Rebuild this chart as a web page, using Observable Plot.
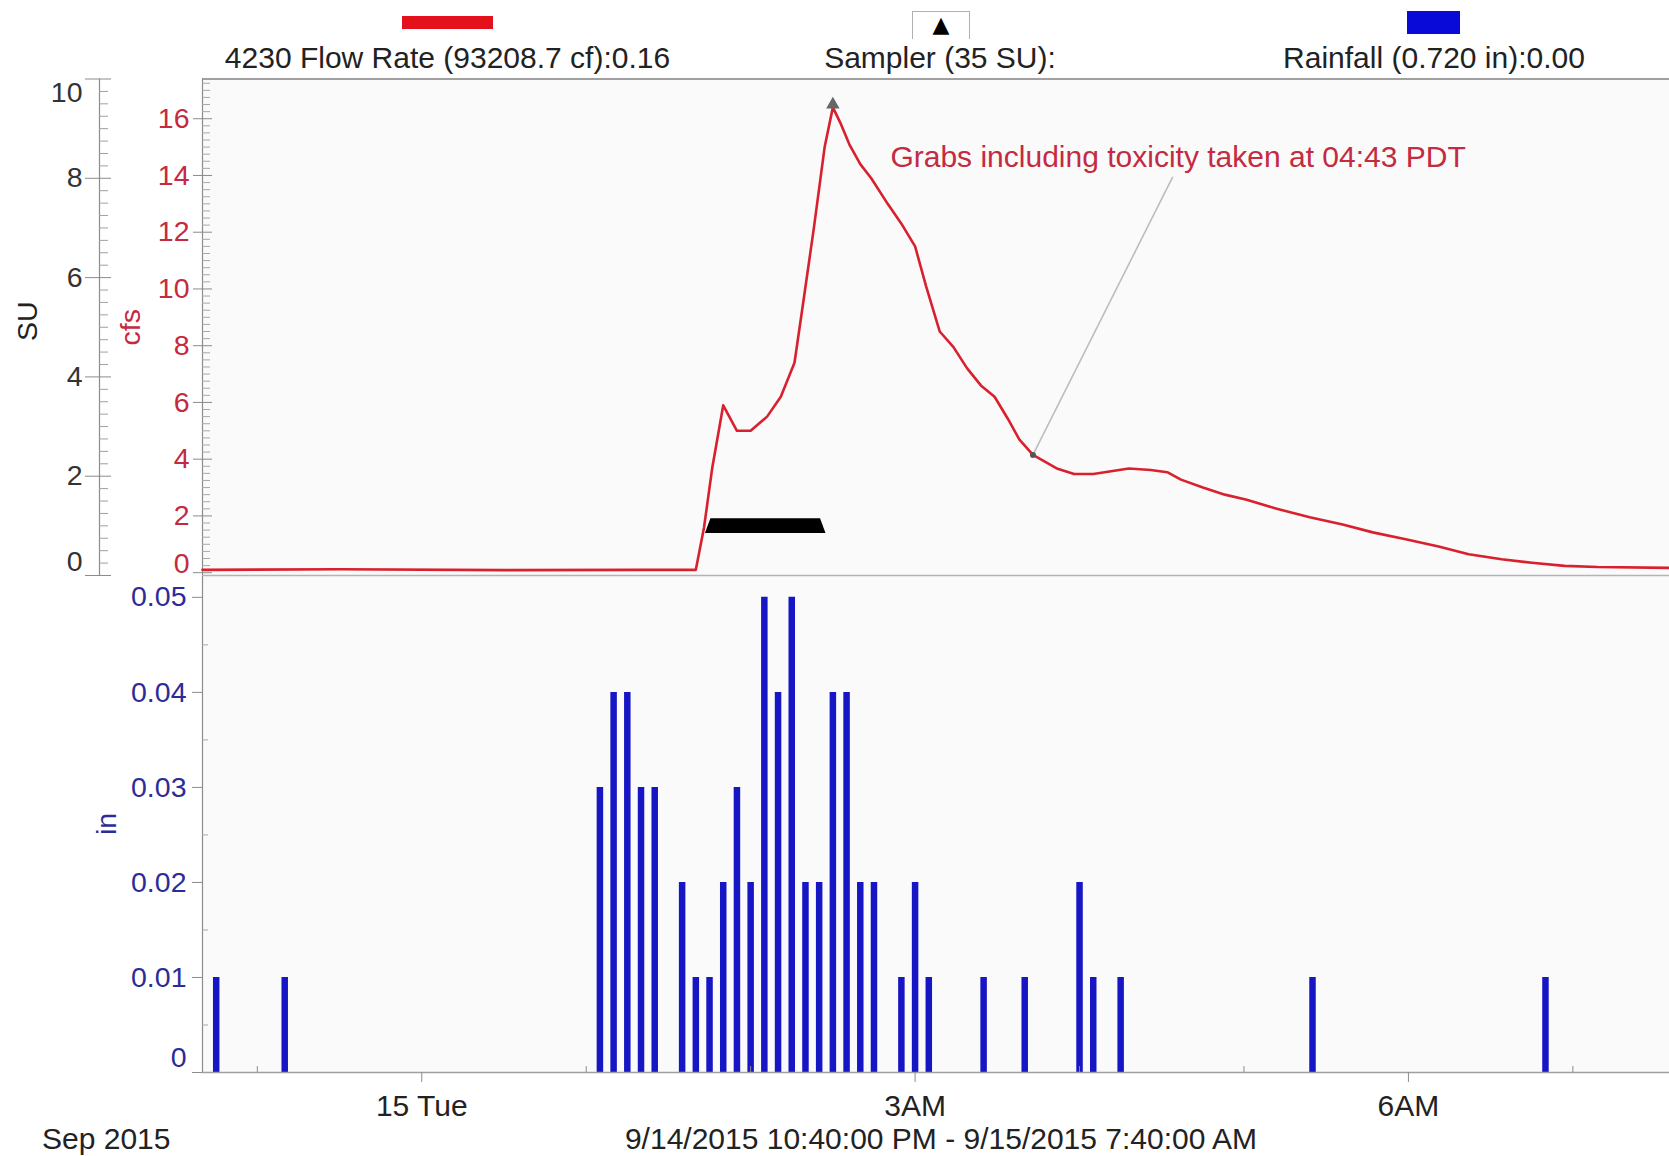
<!DOCTYPE html>
<html><head><meta charset="utf-8">
<script src="https://cdn.jsdelivr.net/npm/d3@7"></script>
<script src="https://cdn.jsdelivr.net/npm/@observablehq/plot@0.6"></script>
<style>
html,body{margin:0;padding:0;overflow:hidden;background:#fff;}
#wrap{position:relative;width:1669px;height:1156px;font-family:"Liberation Sans",Arial,sans-serif;color:#222;overflow:hidden;}
.abs{position:absolute;white-space:nowrap;}
.lbl{font-size:30px;line-height:34px;transform:translateX(-50%);}
#wrap svg{overflow:visible;background:transparent;}
</style></head><body><div id="wrap"></div>
<script>
// ---------- data ----------
const flowTimes = ["2015-09-14T22:40","2015-09-14T23:30","2015-09-15T00:30","2015-09-15T01:20","2015-09-15T01:40","2015-09-15T01:43","2015-09-15T01:46","2015-09-15T01:50","2015-09-15T01:55","2015-09-15T02:00","2015-09-15T02:06","2015-09-15T02:11","2015-09-15T02:16","2015-09-15T02:19","2015-09-15T02:23","2015-09-15T02:27","2015-09-15T02:30","2015-09-15T02:33","2015-09-15T02:36","2015-09-15T02:40","2015-09-15T02:44","2015-09-15T02:50","2015-09-15T02:55","2015-09-15T03:00","2015-09-15T03:04","2015-09-15T03:09","2015-09-15T03:14","2015-09-15T03:19","2015-09-15T03:24","2015-09-15T03:29","2015-09-15T03:34","2015-09-15T03:38","2015-09-15T03:43","2015-09-15T03:52","2015-09-15T03:58","2015-09-15T04:05","2015-09-15T04:18","2015-09-15T04:26","2015-09-15T04:32","2015-09-15T04:37","2015-09-15T04:45","2015-09-15T04:53","2015-09-15T05:01","2015-09-15T05:12","2015-09-15T05:24","2015-09-15T05:36","2015-09-15T05:47","2015-09-15T05:59","2015-09-15T06:11","2015-09-15T06:22","2015-09-15T06:34","2015-09-15T06:45","2015-09-15T06:57","2015-09-15T07:09","2015-09-15T07:35","2015-09-15T07:40"];
const flowCfs = [0.1,0.12,0.09,0.1,0.1,1.6,3.7,5.9,5.0,5.0,5.5,6.2,7.4,9.4,12.1,15.0,16.4,15.8,15.1,14.4,13.9,13.0,12.3,11.5,10.1,8.5,7.95,7.2,6.6,6.2,5.4,4.7,4.15,3.66,3.48,3.48,3.67,3.62,3.54,3.28,3.0,2.75,2.57,2.25,1.95,1.7,1.42,1.18,0.92,0.65,0.47,0.35,0.24,0.2,0.17,0.16];

const rainTimes = ["2015-09-14T22:45","2015-09-14T23:10","2015-09-15T01:05","2015-09-15T01:10","2015-09-15T01:15","2015-09-15T01:20","2015-09-15T01:25","2015-09-15T01:35","2015-09-15T01:40","2015-09-15T01:45","2015-09-15T01:50","2015-09-15T01:55","2015-09-15T02:00","2015-09-15T02:05","2015-09-15T02:10","2015-09-15T02:15","2015-09-15T02:20","2015-09-15T02:25","2015-09-15T02:30","2015-09-15T02:35","2015-09-15T02:40","2015-09-15T02:45","2015-09-15T02:55","2015-09-15T03:00","2015-09-15T03:05","2015-09-15T03:25","2015-09-15T03:40","2015-09-15T04:00","2015-09-15T04:05","2015-09-15T04:15","2015-09-15T05:25","2015-09-15T06:50"];
const rainInches = [0.01,0.01,0.03,0.04,0.04,0.03,0.03,0.02,0.01,0.01,0.02,0.03,0.02,0.05,0.04,0.05,0.02,0.02,0.04,0.04,0.02,0.02,0.01,0.02,0.01,0.01,0.01,0.02,0.01,0.01,0.01,0.01];

// sampler run bar (trapezoid outline in cfs units)
const samplerTimes = ["2015-09-15T01:43:30","2015-09-15T01:45:30","2015-09-15T02:25:30","2015-09-15T02:27:30"];
const samplerLow = [1.38,1.38,1.38,1.38];
const samplerHigh = [1.38,1.9,1.9,1.38];
const samplerMarkTime = ["2015-09-15T02:30"];
const samplerMarkCfs = [16.5];

const grabTime = "2015-09-15T03:43";
const grabCfs = 4.15;
const noteTime = "2015-09-15T04:34";
const noteCfs = 13.95;
const noteTextTime = "2015-09-15T02:51";
const noteTextCfs = 14.62;
const noteText = "Grabs including toxicity taken at 04:43 PDT";

const xStartStr = "2015-09-14T22:40";
const xEndStr = "2015-09-15T07:40";
const xTickTimes = ["2015-09-15T00:00","2015-09-15T03:00","2015-09-15T06:00"];
const xTickLabels = ["15 Tue","3AM","6AM"];
const hourTimes = ["2015-09-14T23:00","2015-09-15T01:00","2015-09-15T02:00","2015-09-15T04:00","2015-09-15T05:00","2015-09-15T07:00"];

const suTicks = [0,2,4,6,8,10];
const cfsTicks = [0,2,4,6,8,10,12,14,16];
const inTicks = [0,0.01,0.02,0.03,0.04,0.05];
const suDomain = [0,10];
const cfsDomain = [-0.1,17.4];
const inDomain = [0,0.0523];

const legendLabels = ["4230 Flow Rate (93208.7 cf):0.16","Sampler (35 SU):","Rainfall (0.720 in):0.00"];
const captionLeft = "Sep 2015";
const captionRange = "9/14/2015 10:40:00 PM - 9/15/2015 7:40:00 AM";

// ---------- helpers ----------
const T = s => new Date(s + "Z");
const flow = flowTimes.map((t,i) => ({t: T(t), v: flowCfs[i]}));
const rain = rainTimes.map((t,i) => ({t: T(t), v: rainInches[i]}));
const sampler = samplerTimes.map((t,i) => ({t: T(t), lo: samplerLow[i], hi: samplerHigh[i]}));
const su2cfs = v => cfsDomain[0] + (v - suDomain[0]) / (suDomain[1]-suDomain[0]) * (cfsDomain[1]-cfsDomain[0]);
const cfs2su = c => suDomain[0] + (c - cfsDomain[0]) / (cfsDomain[1]-cfsDomain[0]) * (suDomain[1]-suDomain[0]);
const xStart = T(xStartStr), xEnd = T(xEndStr);
const xLabelMap = new Map(xTickTimes.map((t,i) => [+T(t), xTickLabels[i]]));

const FONT = "'Liberation Sans', Arial, sans-serif";
const RED = "#d8202e", REDTXT = "#c42a40", NAVY = "#2c2c98", AXIS = "#8c8c8c";
const X0 = 202, X1 = 1682; // pixel range for time axis (right end runs past the window edge)
const SU_DX = -103;
const TICKFONT = 28.5, BIGFONT = 30;

const wrap = document.getElementById("wrap");

// ---------- top panel (flow) ----------
const suMinor = d3.range(0, 10.001, 0.25).filter(v => v % 2 !== 0);
const cfsMinor = d3.range(0, 17.3, 0.25).filter(v => v % 2 !== 0);
const ax = (o) => ({label: null, anchor: "left", ...o});
const topPlot = Plot.plot({
  width: 1669, height: 575,
  marginTop: 78.5, marginBottom: 0, marginLeft: X0, marginRight: 0,
  style: {fontSize: TICKFONT + "px", fontFamily: FONT, color: "#222", background: "transparent", overflow: "visible"},
  x: {type: "utc", domain: [xStart, xEnd], range: [X0, X1], axis: null},
  y: {domain: cfsDomain, label: null},
  marks: [
    Plot.frame({fill: "#fafafa", stroke: null}),
    Plot.ruleY([cfsDomain[1]], {stroke: "#a0a0a0", strokeWidth: 2}),
    Plot.ruleY([cfsDomain[0]], {stroke: "#b4b4b4", strokeWidth: 1.5}),
    Plot.ruleX([xStart], {stroke: AXIS, strokeWidth: 1.2}),
    Plot.ruleX([xStart], {stroke: AXIS, strokeWidth: 1.2, dx: SU_DX}),
    // SU axis
    Plot.axisY(suTicks.map(su2cfs), ax({dx: SU_DX, tickSize: 14, tickFormat: () => "", stroke: AXIS})),
    Plot.axisY(suTicks.map(su2cfs), ax({dx: SU_DX, tickSize: -12, tickFormat: () => "", stroke: AXIS})),
    Plot.axisY(suMinor.map(su2cfs), ax({dx: SU_DX, tickSize: -9, tickFormat: () => "", stroke: "#a0a0a0"})),
    Plot.axisY(suTicks.filter(d => d > 0 && d < 10).map(su2cfs), ax({dx: SU_DX, tickSize: 14, tickPadding: 3, tickFormat: v => String(Math.round(cfs2su(v))), fill: "#333", stroke: "none"})),
    Plot.axisY([su2cfs(0)], ax({dx: SU_DX, tickSize: 14, tickPadding: 3, dy: -14, tickFormat: v => String(Math.round(cfs2su(v))), fill: "#333", stroke: "none"})),
    Plot.axisY([su2cfs(10)], ax({dx: SU_DX, tickSize: 14, tickPadding: 3, dy: 14, tickFormat: v => String(Math.round(cfs2su(v))), fill: "#333", stroke: "none"})),
    // cfs axis
    Plot.axisY(cfsTicks, ax({tickSize: 9, tickFormat: () => "", stroke: AXIS})),
    Plot.axisY(cfsTicks, ax({tickSize: -10, tickFormat: () => "", stroke: AXIS})),
    Plot.axisY(cfsMinor, ax({tickSize: -8, tickFormat: () => "", stroke: "#a8a8a8"})),
    Plot.axisY(cfsTicks.filter(d => d > 0), ax({tickSize: 9, tickPadding: 4, tickFormat: d => String(d), fill: REDTXT, stroke: "none"})),
    Plot.axisY([0], ax({tickSize: 9, tickPadding: 4, dy: -9, tickFormat: d => String(d), fill: REDTXT, stroke: "none"})),
    // axis titles
    Plot.text(["SU"], {text: d => d, frameAnchor: "left", dx: -175, dy: -6, rotate: -90, textAnchor: "middle", fill: "#222"}),
    Plot.text(["cfs"], {text: d => d, frameAnchor: "left", dx: -72, rotate: -90, textAnchor: "middle", fill: REDTXT}),
    // sampler bar
    Plot.areaY(sampler, {x: "t", y1: "lo", y2: "hi", fill: "#000"}),
    // flow line
    Plot.line(flow, {x: "t", y: "v", stroke: RED, strokeWidth: 2.6}),
    // annotation
    Plot.link([0], {x1: () => T(grabTime), y1: () => grabCfs, x2: () => T(noteTime), y2: () => noteCfs, stroke: "#bdbdbd", strokeWidth: 1.6}),
    Plot.dot([0], {x: () => T(grabTime), y: () => grabCfs, r: 3, fill: "#555"}),
    Plot.dot(samplerMarkTime.map((t,i) => ({t: T(t), v: samplerMarkCfs[i]})), {x: "t", y: "v", symbol: "triangle", r: 5, fill: "#666"}),
    Plot.text([noteText], {x: () => T(noteTextTime), y: () => noteTextCfs, text: d => d, textAnchor: "start", fill: REDTXT, fontSize: BIGFONT})
  ]
});
topPlot.style.position = "absolute"; topPlot.style.left = "0px"; topPlot.style.top = "0px";

// ---------- bottom panel (rain) ----------
const inMinor = d3.range(0.005, 0.052, 0.01);
const bottomPlot = Plot.plot({
  width: 1669, height: 543,
  marginTop: 0, marginBottom: 46, marginLeft: X0, marginRight: 0,
  style: {fontSize: TICKFONT + "px", fontFamily: FONT, color: "#222", background: "transparent", overflow: "visible"},
  x: {type: "utc", domain: [xStart, xEnd], range: [X0, X1], label: null},
  y: {domain: inDomain, label: null},
  marks: [
    Plot.frame({fill: "#fafafa", stroke: null}),
    Plot.ruleX([xStart], {stroke: AXIS, strokeWidth: 1.2}),
    Plot.axisY(inTicks, ax({tickSize: 10, tickFormat: () => "", stroke: AXIS})),
    Plot.axisY(inMinor, ax({tickSize: -6, tickFormat: () => "", stroke: "#a8a8a8"})),
    Plot.axisY(inTicks.filter(d => d > 0), ax({tickSize: 10, tickPadding: 6, tickFormat: d => d.toFixed(2), fill: NAVY, stroke: "none"})),
    Plot.axisY([0], ax({tickSize: 10, tickPadding: 6, dy: -15, tickFormat: d => "0", fill: NAVY, stroke: "none"})),
    Plot.text(["in"], {text: d => d, frameAnchor: "left", dx: -96, rotate: -90, textAnchor: "middle", fill: NAVY}),
    Plot.ruleX(rain, {x: "t", y: "v", stroke: "#1616c4", strokeWidth: 6.5}),
    Plot.ruleY([0], {stroke: "#a0a0a0", strokeWidth: 1.5}),
    Plot.axisX(xTickTimes.map(T), {anchor: "bottom", tickSize: 10, tickPadding: 12, tickFormat: d => xLabelMap.get(+d), fill: "#222", stroke: AXIS, label: null, fontSize: BIGFONT}),
    Plot.axisX(hourTimes.map(T), {anchor: "bottom", tickSize: -6, tickFormat: () => "", stroke: AXIS, label: null})
  ]
});
bottomPlot.style.position = "absolute"; bottomPlot.style.left = "0px"; bottomPlot.style.top = "575px";

wrap.appendChild(bottomPlot);
wrap.appendChild(topPlot);

// ---------- legend & captions ----------
function box(left, topPx, w, h, css) {
  const d = document.createElement("div");
  d.className = "abs";
  d.style.cssText += `left:${left}px;top:${topPx}px;width:${w}px;height:${h}px;` + css;
  wrap.appendChild(d); return d;
}
function label(text, cx, cy, color, extra) {
  const d = document.createElement("div");
  d.className = "abs lbl";
  d.textContent = text;
  d.style.left = cx + "px"; d.style.top = (cy - 17) + "px"; d.style.color = color;
  if (extra) d.style.cssText += extra;
  wrap.appendChild(d); return d;
}
box(402, 16, 91, 13, "background:#e4101c;");
const sb = box(912, 11, 58, 28, "border:1px solid #b0b0b0;border-bottom:none;box-sizing:border-box;text-align:center;font-size:22px;line-height:26px;color:#000;font-family:'DejaVu Sans',sans-serif;");
sb.textContent = "▲";
box(1407, 11, 53, 23, "background:#0a0ad8;");
label(legendLabels[0], 447.5, 57.5, "#222");
label(legendLabels[1], 940, 57.5, "#222");
label(legendLabels[2], 1434, 57.5, "#222");
label(captionLeft, 42, 1139, "#222", "transform:none;");
label(captionRange, 941, 1139, "#222");
</script></body></html>
